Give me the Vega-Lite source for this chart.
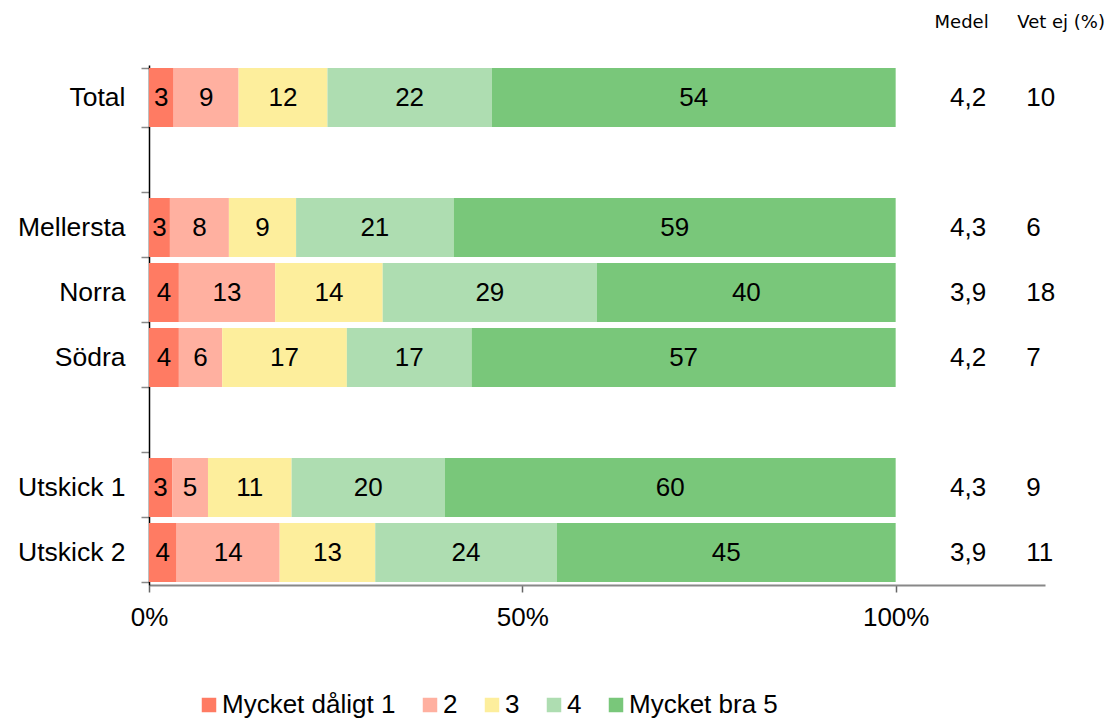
{
  "$schema": "https://vega.github.io/schema/vega-lite/v6.json",
  "width": 896,
  "height": 520,
  "autosize": "none",
  "padding": {"left": 149, "top": 65, "right": 67, "bottom": 136},
  "background": "white",
  "config": {"view": {"stroke": null}, "font": "Liberation Sans"},
  "title": {"text": "Medel\u00a0\u00a0\u00a0\u00a0\u00a0Vet ej (%)", "anchor": "end", "frame": "group", "dx": 60, "offset": 20, "font": "DejaVu Sans", "fontSize": 18, "fontWeight": "normal", "color": "black"},
  "datasets": {
    "bars": [
      {"group": "Total", "cat": "Mycket dåligt 1", "order": 1, "value": 3.3, "label": "3"},
      {"group": "Total", "cat": "2", "order": 2, "value": 8.7, "label": "9"},
      {"group": "Total", "cat": "3", "order": 3, "value": 11.9, "label": "12"},
      {"group": "Total", "cat": "4", "order": 4, "value": 22.0, "label": "22"},
      {"group": "Total", "cat": "Mycket bra 5", "order": 5, "value": 54.1, "label": "54"},
      {"group": "Mellersta", "cat": "Mycket dåligt 1", "order": 1, "value": 2.8, "label": "3"},
      {"group": "Mellersta", "cat": "2", "order": 2, "value": 7.9, "label": "8"},
      {"group": "Mellersta", "cat": "3", "order": 3, "value": 9.0, "label": "9"},
      {"group": "Mellersta", "cat": "4", "order": 4, "value": 21.1, "label": "21"},
      {"group": "Mellersta", "cat": "Mycket bra 5", "order": 5, "value": 59.2, "label": "59"},
      {"group": "Norra", "cat": "Mycket dåligt 1", "order": 1, "value": 4.0, "label": "4"},
      {"group": "Norra", "cat": "2", "order": 2, "value": 12.9, "label": "13"},
      {"group": "Norra", "cat": "3", "order": 3, "value": 14.4, "label": "14"},
      {"group": "Norra", "cat": "4", "order": 4, "value": 28.7, "label": "29"},
      {"group": "Norra", "cat": "Mycket bra 5", "order": 5, "value": 40.0, "label": "40"},
      {"group": "Södra", "cat": "Mycket dåligt 1", "order": 1, "value": 4.0, "label": "4"},
      {"group": "Södra", "cat": "2", "order": 2, "value": 5.8, "label": "6"},
      {"group": "Södra", "cat": "3", "order": 3, "value": 16.7, "label": "17"},
      {"group": "Södra", "cat": "4", "order": 4, "value": 16.7, "label": "17"},
      {"group": "Södra", "cat": "Mycket bra 5", "order": 5, "value": 56.8, "label": "57"},
      {"group": "Utskick 1", "cat": "Mycket dåligt 1", "order": 1, "value": 3.1, "label": "3"},
      {"group": "Utskick 1", "cat": "2", "order": 2, "value": 4.8, "label": "5"},
      {"group": "Utskick 1", "cat": "3", "order": 3, "value": 11.2, "label": "11"},
      {"group": "Utskick 1", "cat": "4", "order": 4, "value": 20.5, "label": "20"},
      {"group": "Utskick 1", "cat": "Mycket bra 5", "order": 5, "value": 60.4, "label": "60"},
      {"group": "Utskick 2", "cat": "Mycket dåligt 1", "order": 1, "value": 3.7, "label": "4"},
      {"group": "Utskick 2", "cat": "2", "order": 2, "value": 13.8, "label": "14"},
      {"group": "Utskick 2", "cat": "3", "order": 3, "value": 12.8, "label": "13"},
      {"group": "Utskick 2", "cat": "4", "order": 4, "value": 24.3, "label": "24"},
      {"group": "Utskick 2", "cat": "Mycket bra 5", "order": 5, "value": 45.4, "label": "45"}
    ],
    "side": [
      {"group": "Total", "medel": "4,2", "vetej": "10"},
      {"group": "Mellersta", "medel": "4,3", "vetej": "6"},
      {"group": "Norra", "medel": "3,9", "vetej": "18"},
      {"group": "Södra", "medel": "4,2", "vetej": "7"},
      {"group": "Utskick 1", "medel": "4,3", "vetej": "9"},
      {"group": "Utskick 2", "medel": "3,9", "vetej": "11"}
    ]
  },
  "data": {"name": "bars"},
  "encoding": {
    "y": {
      "field": "group", "type": "nominal",
      "scale": {"domain": ["Total", " ", "Mellersta", "Norra", "Södra", "  ", "Utskick 1", "Utskick 2"], "paddingInner": 0.09, "paddingOuter": 0.045},
      "axis": {"title": null, "labelFontSize": 26.5, "labelColor": "black", "labelPadding": 16, "tickSize": 8, "tickColor": "#888888", "tickWidth": 1.5, "domainColor": "black", "domainWidth": 1.5, "tickBand": "extent", "labelFont": "Liberation Sans"}
    }
  },
  "layer": [
    {
      "mark": {"type": "bar", "stroke": null},
      "encoding": {
        "x": {
          "field": "value", "type": "quantitative", "stack": "zero",
          "scale": {"domain": [0, 120], "nice": false},
          "axis": {"title": null, "values": [0, 50, 100], "labelExpr": "datum.value + '%'", "labelFlush": false, "grid": false, "domainColor": "#888888", "domainWidth": 2, "tickColor": "#666666", "tickSize": 7, "tickWidth": 1.5, "labelFontSize": 26, "labelPadding": 12, "labelColor": "black", "labelFont": "Liberation Sans"}
        },
        "color": {
          "field": "cat", "type": "nominal",
          "scale": {"domain": ["Mycket dåligt 1", "2", "3", "4", "Mycket bra 5"], "range": ["#FF7B63", "#FFB0A0", "#FDEE9C", "#AEDDB1", "#79C77A"]},
          "legend": {"orient": "none", "legendX": 47, "legendY": 627, "direction": "horizontal", "columns": 5, "title": null, "symbolType": "square", "symbolSize": 210, "symbolStrokeWidth": 0, "symbolOpacity": 1, "labelFontSize": 26, "labelOffset": 0, "columnPadding": 21, "labelFont": "Liberation Sans", "labelColor": "black", "labelLimit": 0}
        },
        "order": {"field": "order"}
      }
    },
    {
      "mark": {"type": "text", "fontSize": 26, "color": "black", "font": "Liberation Sans", "align": "center", "baseline": "middle"},
      "encoding": {
        "x": {"field": "value", "type": "quantitative", "stack": "zero", "bandPosition": 0.5},
        "detail": {"field": "cat"},
        "order": {"field": "order"},
        "text": {"field": "label"}
      }
    },
    {
      "data": {"name": "side"},
      "mark": {"type": "text", "fontSize": 26, "color": "black", "font": "Liberation Sans", "align": "center", "baseline": "middle"},
      "encoding": {
        "x": {"datum": 109.7, "type": "quantitative"},
        "text": {"field": "medel"}
      }
    },
    {
      "data": {"name": "side"},
      "mark": {"type": "text", "fontSize": 26, "color": "black", "font": "Liberation Sans", "align": "left", "baseline": "middle"},
      "encoding": {
        "x": {"datum": 117.5, "type": "quantitative"},
        "text": {"field": "vetej"}
      }
    }
  ]
}
